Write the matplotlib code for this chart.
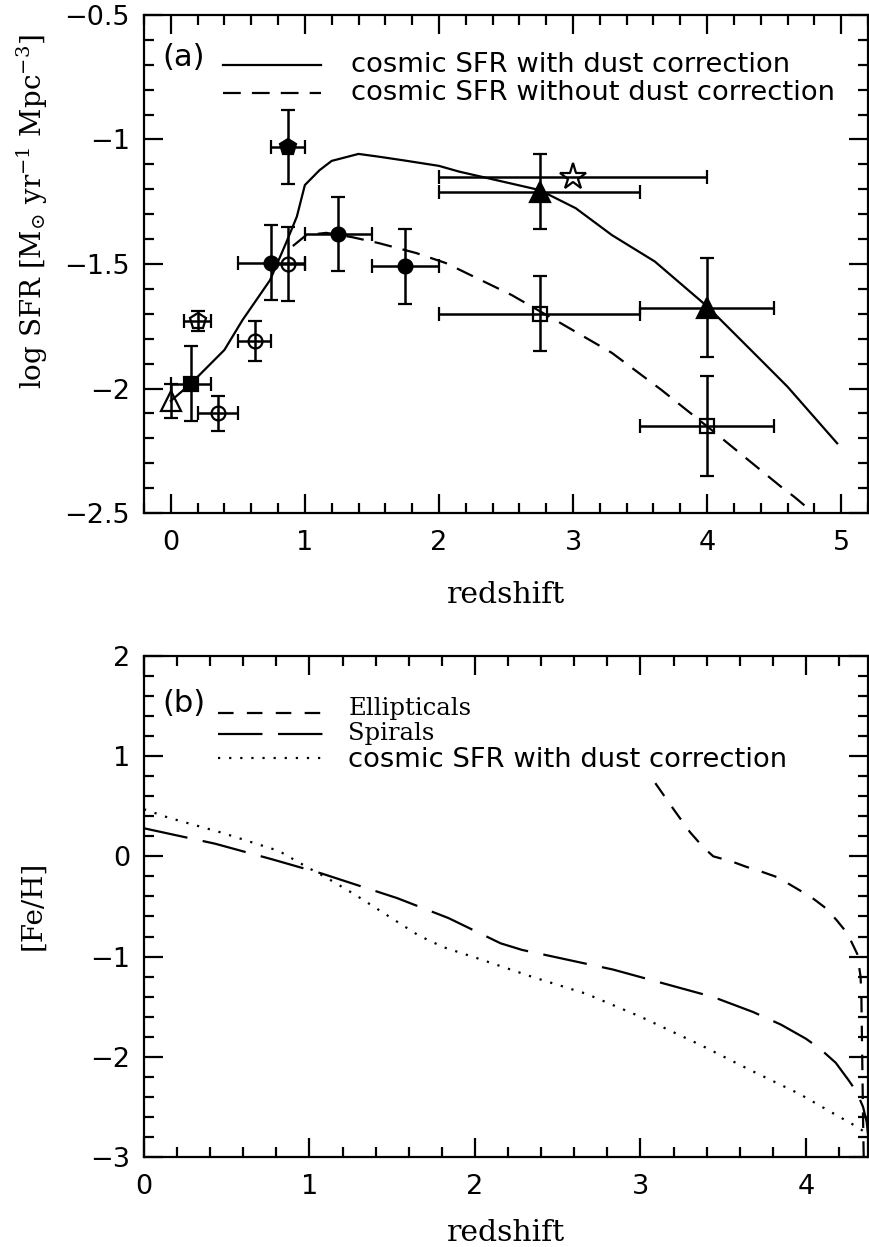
import matplotlib
matplotlib.use('Agg')
import matplotlib.pyplot as plt
from matplotlib.ticker import MultipleLocator, FuncFormatter

plt.rcParams['mathtext.fontset'] = 'dejavuserif'

# ---------------- panel (a): cosmic SFR models ----------------
sfr_dust_z = [0.0, 0.15, 0.40, 0.535, 0.74, 0.86, 0.94, 1.0, 1.11, 1.20, 1.40,
              1.55, 1.75, 2.0, 2.15, 2.75, 3.02, 3.29, 3.61, 4.0, 4.4, 4.6, 4.97]
sfr_dust = [-2.05, -1.98, -1.845, -1.725, -1.565, -1.415, -1.31, -1.183, -1.123,
            -1.086, -1.058, -1.069, -1.085, -1.106, -1.129, -1.203, -1.276,
            -1.384, -1.49, -1.67, -1.885, -1.993, -2.22]

sfr_nodust_z = [0.91, 1.01, 1.16, 1.35, 1.55, 1.83, 2.05, 2.54, 2.89, 3.29,
                3.66, 4.03, 4.55, 4.65, 4.85]
sfr_nodust = [-1.428, -1.384, -1.375, -1.392, -1.416, -1.456, -1.496, -1.624,
              -1.732, -1.857, -2.006, -2.165, -2.394, -2.435, -2.525]

# ---------------- panel (a): observations ----------------
tri_open_z, tri_open_y, tri_open_yerr = [0.0], [-2.05], [0.07]
sq_fill_z, sq_fill_y, sq_fill_zerr, sq_fill_yerr = [0.15], [-1.98], [0.15], [0.15]
pent_open_z, pent_open_y, pent_open_zerr, pent_open_yerr = [0.2], [-1.73], [0.1], [0.04]
circ_open_z = [0.35, 0.625, 0.875]
circ_open_y = [-2.10, -1.81, -1.50]
circ_open_zerr = [0.15, 0.125, 0.125]
circ_open_yerr = [0.07, 0.08, 0.15]
circ_fill_z = [0.75, 1.25, 1.75]
circ_fill_y = [-1.495, -1.38, -1.51]
circ_fill_zerr = [0.25, 0.25, 0.25]
circ_fill_yerr = [0.15, 0.15, 0.15]
pent_fill_z, pent_fill_y, pent_fill_zerr, pent_fill_yerr = [0.875], [-1.03], [0.125], [0.15]
sq_open_z = [2.75, 4.0]
sq_open_y = [-1.70, -2.15]
sq_open_zerr = [0.75, 0.5]
sq_open_yerr = [0.15, 0.2]
tri_fill_z = [2.75, 4.0]
tri_fill_y = [-1.21, -1.675]
tri_fill_zerr = [0.75, 0.5]
tri_fill_yerr = [0.15, 0.2]
star_z, star_y, star_zerr = [3.0], [-1.15], [1.0]

# ---------------- panel (b): [Fe/H] models ----------------
ell_z = [3.09, 3.2, 3.3, 3.38, 3.44, 3.55, 3.64, 3.73, 3.83, 3.96, 4.04, 4.12,
         4.185, 4.25, 4.31, 4.33, 4.335, 4.34, 4.345, 4.35]
ell_feh = [0.73, 0.47, 0.24, 0.09, 0.0, -0.05, -0.105, -0.152, -0.21, -0.337,
           -0.417, -0.517, -0.636, -0.768, -0.974, -1.2, -1.4, -2.0, -2.6, -3.1]

spi_z = [0.0, 0.43, 0.775, 1.075, 1.53, 1.84, 2.155, 2.285, 2.49, 2.835, 3.21,
         3.44, 3.68, 3.85, 4.0, 4.085, 4.18, 4.256, 4.306, 4.345, 4.367, 4.38]
spi_feh = [0.28, 0.126, -0.03, -0.172, -0.417, -0.616, -0.868, -0.934, -1.007,
           -1.13, -1.30, -1.404, -1.553, -1.68, -1.82, -1.92, -2.06, -2.23,
           -2.35, -2.5, -2.65, -2.85]

csfr_z = [0.0, 0.15, 0.47, 0.815, 0.99, 1.10, 1.27, 1.49, 1.66, 1.81, 2.02,
          2.35, 2.67, 3.0, 3.36, 3.66, 3.96, 4.16, 4.31, 4.38]
csfr_feh = [0.47, 0.385, 0.236, 0.054, -0.112, -0.21, -0.377, -0.61, -0.79,
            -0.907, -1.02, -1.205, -1.37, -1.60, -1.88, -2.13, -2.37, -2.56,
            -2.70, -2.78]

LW = 1.6
TICKFONT = 'DejaVu Sans'

fig = plt.figure(figsize=(8.7, 12.47), dpi=100)
ax1 = fig.add_axes([0.1655, 0.5886, 0.8322, 0.3994])
ax2 = fig.add_axes([0.1655, 0.0722, 0.8322, 0.4018])

fmt = FuncFormatter(lambda v, p: ('%g' % v).replace('-', '\u2212'))


def style(ax, xmaj, xmin, ymaj, ymin):
    ax.xaxis.set_major_locator(MultipleLocator(xmaj))
    ax.xaxis.set_minor_locator(MultipleLocator(xmin))
    ax.yaxis.set_major_locator(MultipleLocator(ymaj))
    ax.yaxis.set_minor_locator(MultipleLocator(ymin))
    ax.xaxis.set_major_formatter(fmt)
    ax.yaxis.set_major_formatter(fmt)
    ax.tick_params(which='both', direction='in', top=True, right=True,
                   width=1.6, labelsize=19.5)
    ax.tick_params(which='major', length=14)
    ax.tick_params(which='minor', length=7)
    ax.tick_params(axis='x', pad=12)
    ax.tick_params(axis='y', pad=10)
    for lab in ax.get_xticklabels() + ax.get_yticklabels():
        lab.set_family(TICKFONT)
    for s in ax.spines.values():
        s.set_linewidth(1.6)


def obs(ax, z, y, zerr, yerr, marker, filled, ms):
    ax.errorbar(z, y, xerr=zerr, yerr=yerr, fmt=marker, ms=ms,
                mfc='k' if filled else 'none', mec='k', mew=1.6,
                ecolor='k', elinewidth=1.8, capsize=5, capthick=1.8,
                zorder=3)


# ---------------- panel (a) ----------------
ax1.plot(sfr_dust_z, sfr_dust, color='k', lw=LW)
ax1.plot(sfr_nodust_z, sfr_nodust, color='k', lw=LW, ls=(0, (8, 5)))

obs(ax1, tri_open_z, tri_open_y, None, tri_open_yerr, '^', False, 15)
obs(ax1, sq_fill_z, sq_fill_y, sq_fill_zerr, sq_fill_yerr, 's', True, 10)
obs(ax1, pent_open_z, pent_open_y, pent_open_zerr, pent_open_yerr, 'p', False, 12)
obs(ax1, circ_open_z, circ_open_y, circ_open_zerr, circ_open_yerr, 'o', False, 10)
obs(ax1, circ_fill_z, circ_fill_y, circ_fill_zerr, circ_fill_yerr, 'o', True, 10)
obs(ax1, pent_fill_z, pent_fill_y, pent_fill_zerr, pent_fill_yerr, 'p', True, 12)
obs(ax1, sq_open_z, sq_open_y, sq_open_zerr, sq_open_yerr, 's', False, 10)
obs(ax1, tri_fill_z, tri_fill_y, tri_fill_zerr, tri_fill_yerr, '^', True, 15)
obs(ax1, star_z, star_y, star_zerr, None, '*', False, 20)

ax1.set_xlim(-0.2, 5.2)
ax1.set_ylim(-2.5, -0.5)
style(ax1, 1, 0.2, 0.5, 0.1)

ax1.text(0.026, 0.915, '(a)', transform=ax1.transAxes, ha='left', va='center',
         fontsize=22, family='DejaVu Sans')
ax1.plot([0.109, 0.244], [0.900, 0.900], transform=ax1.transAxes, color='k', lw=LW,
         clip_on=False)
ax1.plot([0.109, 0.244], [0.843, 0.843], transform=ax1.transAxes, color='k', lw=LW,
         ls=(0, (8, 5)), clip_on=False)
ax1.text(0.286, 0.900, 'cosmic SFR with dust correction', transform=ax1.transAxes,
         ha='left', va='center', fontsize=19.7, family='DejaVu Sans')
ax1.text(0.286, 0.843, 'cosmic SFR without dust correction', transform=ax1.transAxes,
         ha='left', va='center', fontsize=19.7, family='DejaVu Sans')

# ---------------- panel (b) ----------------
ax2.plot(ell_z, ell_feh, color='k', lw=LW, ls=(0, (7, 6)))
ax2.plot(spi_z, spi_feh, color='k', lw=LW, ls=(0, (20, 7)))
ax2.plot(csfr_z, csfr_feh, color='k', lw=LW, ls=(0, (1, 4)))
ax2.set_xlim(0, 4.375)
ax2.set_ylim(-3, 2)
style(ax2, 1, 0.2, 1, 0.2)

ax2.text(0.026, 0.905, '(b)', transform=ax2.transAxes, ha='left', va='center',
         fontsize=22, family='DejaVu Sans')
ax2.plot([0.102, 0.251], [0.886, 0.886], transform=ax2.transAxes, color='k', lw=LW,
         ls=(0, (7, 6)), clip_on=False)
ax2.plot([0.102, 0.251], [0.845, 0.845], transform=ax2.transAxes, color='k', lw=LW,
         ls=(0, (20, 7)), clip_on=False)
ax2.plot([0.102, 0.251], [0.796, 0.796], transform=ax2.transAxes, color='k', lw=LW,
         ls=(0, (1, 4)), clip_on=False)
ax2.text(0.282, 0.896, 'Ellipticals', transform=ax2.transAxes, ha='left',
         va='center', fontsize=17.5, family='DejaVu Serif')
ax2.text(0.282, 0.846, 'Spirals', transform=ax2.transAxes, ha='left',
         va='center', fontsize=17.5, family='DejaVu Serif')
ax2.text(0.282, 0.793, 'cosmic SFR with dust correction', transform=ax2.transAxes,
         ha='left', va='center', fontsize=19.7, family='DejaVu Sans')

# ---------------- axis labels ----------------
W, H = 870.0, 1247.0
fig.text(32 / W, 1 - 212 / H, r'log SFR [M$_{\odot}$ yr$^{-1}$ Mpc$^{-3}$]',
         rotation=90, ha='center', va='center', fontsize=20, family='DejaVu Serif')
fig.text(506 / W, 1 - 595 / H, 'redshift', ha='center', va='center',
         fontsize=21.5, family='DejaVu Serif')
fig.text(33 / W, 1 - 905 / H, '[Fe/H]', rotation=90, ha='center', va='center',
         fontsize=20, family='DejaVu Serif')
fig.text(506 / W, 1 - 1233 / H, 'redshift', ha='center', va='center',
         fontsize=21.5, family='DejaVu Serif')

fig.savefig('out.png', dpi=100)
